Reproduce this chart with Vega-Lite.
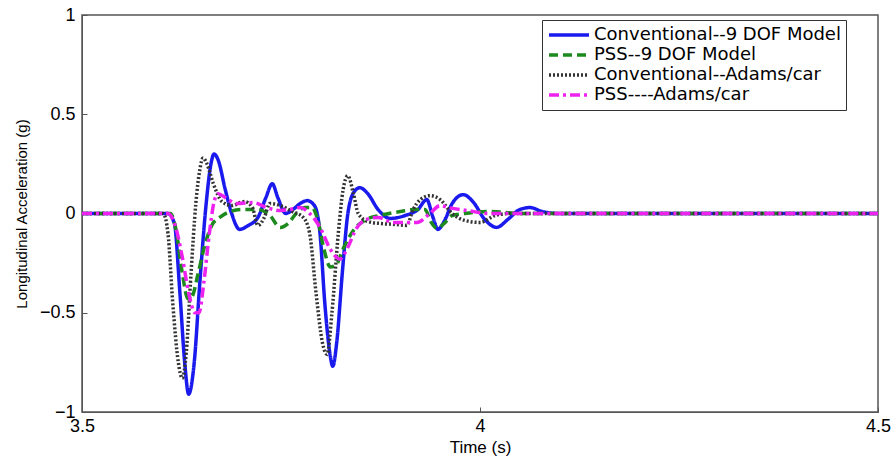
{
  "$schema": "https://vega.github.io/schema/vega-lite/v6.json",
  "width": 796,
  "height": 397,
  "autosize": {"type": "none"},
  "padding": {"left": 82, "top": 15, "right": 16, "bottom": 47},
  "background": "white",
  "config": {
    "font": "Liberation Sans",
    "view": {"stroke": "#555", "strokeWidth": 1.5},
    "axis": {
      "grid": false,
      "domainColor": "#555",
      "tickColor": "#555",
      "labelColor": "black",
      "titleColor": "black",
      "labelFont": "Liberation Sans",
      "titleFont": "Liberation Sans",
      "titleFontWeight": "normal",
      "labelFontSize": 18,
      "titleFontSize": 17,
      "labelOverlap": false
    }
  },
  "data": {
    "values": [
      {"t": 3.5, "y": 0, "s": "Conventional--9 DOF Model"},
      {"t": 3.608, "y": 0, "s": "Conventional--9 DOF Model"},
      {"t": 3.616, "y": -0.05, "s": "Conventional--9 DOF Model"},
      {"t": 3.623, "y": -0.4, "s": "Conventional--9 DOF Model"},
      {"t": 3.629, "y": -0.75, "s": "Conventional--9 DOF Model"},
      {"t": 3.634, "y": -0.91, "s": "Conventional--9 DOF Model"},
      {"t": 3.641, "y": -0.75, "s": "Conventional--9 DOF Model"},
      {"t": 3.648, "y": -0.35, "s": "Conventional--9 DOF Model"},
      {"t": 3.656, "y": 0.05, "s": "Conventional--9 DOF Model"},
      {"t": 3.662, "y": 0.25, "s": "Conventional--9 DOF Model"},
      {"t": 3.666, "y": 0.3, "s": "Conventional--9 DOF Model"},
      {"t": 3.671, "y": 0.27, "s": "Conventional--9 DOF Model"},
      {"t": 3.68, "y": 0.12, "s": "Conventional--9 DOF Model"},
      {"t": 3.688, "y": 0.0, "s": "Conventional--9 DOF Model"},
      {"t": 3.698, "y": -0.08, "s": "Conventional--9 DOF Model"},
      {"t": 3.709, "y": -0.06, "s": "Conventional--9 DOF Model"},
      {"t": 3.721, "y": -0.02, "s": "Conventional--9 DOF Model"},
      {"t": 3.731, "y": 0.08, "s": "Conventional--9 DOF Model"},
      {"t": 3.739, "y": 0.15, "s": "Conventional--9 DOF Model"},
      {"t": 3.746, "y": 0.08, "s": "Conventional--9 DOF Model"},
      {"t": 3.756, "y": 0.0, "s": "Conventional--9 DOF Model"},
      {"t": 3.765, "y": 0.02, "s": "Conventional--9 DOF Model"},
      {"t": 3.774, "y": 0.05, "s": "Conventional--9 DOF Model"},
      {"t": 3.783, "y": 0.065, "s": "Conventional--9 DOF Model"},
      {"t": 3.792, "y": 0.04, "s": "Conventional--9 DOF Model"},
      {"t": 3.799, "y": -0.1, "s": "Conventional--9 DOF Model"},
      {"t": 3.805, "y": -0.45, "s": "Conventional--9 DOF Model"},
      {"t": 3.812, "y": -0.72, "s": "Conventional--9 DOF Model"},
      {"t": 3.815, "y": -0.77, "s": "Conventional--9 DOF Model"},
      {"t": 3.82, "y": -0.65, "s": "Conventional--9 DOF Model"},
      {"t": 3.827, "y": -0.3, "s": "Conventional--9 DOF Model"},
      {"t": 3.834, "y": 0.0, "s": "Conventional--9 DOF Model"},
      {"t": 3.842, "y": 0.11, "s": "Conventional--9 DOF Model"},
      {"t": 3.849, "y": 0.13, "s": "Conventional--9 DOF Model"},
      {"t": 3.859, "y": 0.1, "s": "Conventional--9 DOF Model"},
      {"t": 3.872, "y": 0.02, "s": "Conventional--9 DOF Model"},
      {"t": 3.887, "y": -0.025, "s": "Conventional--9 DOF Model"},
      {"t": 3.906, "y": -0.01, "s": "Conventional--9 DOF Model"},
      {"t": 3.922, "y": 0.02, "s": "Conventional--9 DOF Model"},
      {"t": 3.933, "y": 0.07, "s": "Conventional--9 DOF Model"},
      {"t": 3.941, "y": -0.02, "s": "Conventional--9 DOF Model"},
      {"t": 3.947, "y": -0.08, "s": "Conventional--9 DOF Model"},
      {"t": 3.955, "y": -0.04, "s": "Conventional--9 DOF Model"},
      {"t": 3.965, "y": 0.05, "s": "Conventional--9 DOF Model"},
      {"t": 3.979, "y": 0.095, "s": "Conventional--9 DOF Model"},
      {"t": 3.991, "y": 0.06, "s": "Conventional--9 DOF Model"},
      {"t": 4.006, "y": -0.03, "s": "Conventional--9 DOF Model"},
      {"t": 4.021, "y": -0.07, "s": "Conventional--9 DOF Model"},
      {"t": 4.035, "y": -0.03, "s": "Conventional--9 DOF Model"},
      {"t": 4.05, "y": 0.02, "s": "Conventional--9 DOF Model"},
      {"t": 4.063, "y": 0.03, "s": "Conventional--9 DOF Model"},
      {"t": 4.078, "y": 0.01, "s": "Conventional--9 DOF Model"},
      {"t": 4.1, "y": 0, "s": "Conventional--9 DOF Model"},
      {"t": 4.5, "y": 0, "s": "Conventional--9 DOF Model"},

      {"t": 3.5, "y": 0, "s": "PSS--9 DOF Model"},
      {"t": 3.611, "y": 0, "s": "PSS--9 DOF Model"},
      {"t": 3.618, "y": -0.08, "s": "PSS--9 DOF Model"},
      {"t": 3.626, "y": -0.3, "s": "PSS--9 DOF Model"},
      {"t": 3.633, "y": -0.43, "s": "PSS--9 DOF Model"},
      {"t": 3.638, "y": -0.42, "s": "PSS--9 DOF Model"},
      {"t": 3.646, "y": -0.3, "s": "PSS--9 DOF Model"},
      {"t": 3.655, "y": -0.15, "s": "PSS--9 DOF Model"},
      {"t": 3.663, "y": -0.06, "s": "PSS--9 DOF Model"},
      {"t": 3.673, "y": -0.02, "s": "PSS--9 DOF Model"},
      {"t": 3.686, "y": 0.01, "s": "PSS--9 DOF Model"},
      {"t": 3.701, "y": 0.02, "s": "PSS--9 DOF Model"},
      {"t": 3.721, "y": 0.02, "s": "PSS--9 DOF Model"},
      {"t": 3.736, "y": -0.01, "s": "PSS--9 DOF Model"},
      {"t": 3.749, "y": -0.07, "s": "PSS--9 DOF Model"},
      {"t": 3.759, "y": -0.05, "s": "PSS--9 DOF Model"},
      {"t": 3.769, "y": 0.0, "s": "PSS--9 DOF Model"},
      {"t": 3.78, "y": 0.03, "s": "PSS--9 DOF Model"},
      {"t": 3.789, "y": 0.03, "s": "PSS--9 DOF Model"},
      {"t": 3.796, "y": -0.03, "s": "PSS--9 DOF Model"},
      {"t": 3.804, "y": -0.18, "s": "PSS--9 DOF Model"},
      {"t": 3.812, "y": -0.27, "s": "PSS--9 DOF Model"},
      {"t": 3.819, "y": -0.26, "s": "PSS--9 DOF Model"},
      {"t": 3.829, "y": -0.17, "s": "PSS--9 DOF Model"},
      {"t": 3.842, "y": -0.08, "s": "PSS--9 DOF Model"},
      {"t": 3.857, "y": -0.03, "s": "PSS--9 DOF Model"},
      {"t": 3.874, "y": -0.01, "s": "PSS--9 DOF Model"},
      {"t": 3.9, "y": 0.01, "s": "PSS--9 DOF Model"},
      {"t": 3.918, "y": 0.02, "s": "PSS--9 DOF Model"},
      {"t": 3.931, "y": 0.02, "s": "PSS--9 DOF Model"},
      {"t": 3.938, "y": -0.04, "s": "PSS--9 DOF Model"},
      {"t": 3.946, "y": -0.075, "s": "PSS--9 DOF Model"},
      {"t": 3.955, "y": -0.05, "s": "PSS--9 DOF Model"},
      {"t": 3.965, "y": -0.01, "s": "PSS--9 DOF Model"},
      {"t": 3.981, "y": 0.0, "s": "PSS--9 DOF Model"},
      {"t": 4.013, "y": 0.01, "s": "PSS--9 DOF Model"},
      {"t": 4.05, "y": 0, "s": "PSS--9 DOF Model"},
      {"t": 4.5, "y": 0, "s": "PSS--9 DOF Model"},

      {"t": 3.5, "y": 0, "s": "Conventional--Adams/car"},
      {"t": 3.602, "y": 0, "s": "Conventional--Adams/car"},
      {"t": 3.608, "y": -0.1, "s": "Conventional--Adams/car"},
      {"t": 3.614, "y": -0.45, "s": "Conventional--Adams/car"},
      {"t": 3.621, "y": -0.75, "s": "Conventional--Adams/car"},
      {"t": 3.626, "y": -0.83, "s": "Conventional--Adams/car"},
      {"t": 3.631, "y": -0.7, "s": "Conventional--Adams/car"},
      {"t": 3.637, "y": -0.3, "s": "Conventional--Adams/car"},
      {"t": 3.643, "y": 0.05, "s": "Conventional--Adams/car"},
      {"t": 3.648, "y": 0.22, "s": "Conventional--Adams/car"},
      {"t": 3.652, "y": 0.28, "s": "Conventional--Adams/car"},
      {"t": 3.657, "y": 0.25, "s": "Conventional--Adams/car"},
      {"t": 3.665, "y": 0.15, "s": "Conventional--Adams/car"},
      {"t": 3.676, "y": 0.06, "s": "Conventional--Adams/car"},
      {"t": 3.688, "y": 0.04, "s": "Conventional--Adams/car"},
      {"t": 3.704, "y": 0.06, "s": "Conventional--Adams/car"},
      {"t": 3.714, "y": 0.03, "s": "Conventional--Adams/car"},
      {"t": 3.721, "y": -0.06, "s": "Conventional--Adams/car"},
      {"t": 3.729, "y": -0.02, "s": "Conventional--Adams/car"},
      {"t": 3.736, "y": 0.05, "s": "Conventional--Adams/car"},
      {"t": 3.749, "y": 0.04, "s": "Conventional--Adams/car"},
      {"t": 3.764, "y": 0.01, "s": "Conventional--Adams/car"},
      {"t": 3.778, "y": -0.02, "s": "Conventional--Adams/car"},
      {"t": 3.786, "y": -0.1, "s": "Conventional--Adams/car"},
      {"t": 3.794, "y": -0.4, "s": "Conventional--Adams/car"},
      {"t": 3.802, "y": -0.65, "s": "Conventional--Adams/car"},
      {"t": 3.808, "y": -0.71, "s": "Conventional--Adams/car"},
      {"t": 3.814, "y": -0.5, "s": "Conventional--Adams/car"},
      {"t": 3.822, "y": -0.1, "s": "Conventional--Adams/car"},
      {"t": 3.828, "y": 0.12, "s": "Conventional--Adams/car"},
      {"t": 3.834, "y": 0.19, "s": "Conventional--Adams/car"},
      {"t": 3.841, "y": 0.1, "s": "Conventional--Adams/car"},
      {"t": 3.847, "y": 0.0, "s": "Conventional--Adams/car"},
      {"t": 3.859, "y": -0.04, "s": "Conventional--Adams/car"},
      {"t": 3.874, "y": -0.05, "s": "Conventional--Adams/car"},
      {"t": 3.893, "y": -0.055, "s": "Conventional--Adams/car"},
      {"t": 3.908, "y": -0.06, "s": "Conventional--Adams/car"},
      {"t": 3.916, "y": 0.02, "s": "Conventional--Adams/car"},
      {"t": 3.925, "y": 0.07, "s": "Conventional--Adams/car"},
      {"t": 3.937, "y": 0.09, "s": "Conventional--Adams/car"},
      {"t": 3.95, "y": 0.07, "s": "Conventional--Adams/car"},
      {"t": 3.965, "y": 0.0, "s": "Conventional--Adams/car"},
      {"t": 3.981, "y": -0.035, "s": "Conventional--Adams/car"},
      {"t": 4.0, "y": -0.045, "s": "Conventional--Adams/car"},
      {"t": 4.019, "y": -0.01, "s": "Conventional--Adams/car"},
      {"t": 4.038, "y": 0, "s": "Conventional--Adams/car"},
      {"t": 4.5, "y": 0, "s": "Conventional--Adams/car"},

      {"t": 3.5, "y": 0, "s": "PSS----Adams/car"},
      {"t": 3.608, "y": 0, "s": "PSS----Adams/car"},
      {"t": 3.617, "y": -0.06, "s": "PSS----Adams/car"},
      {"t": 3.626, "y": -0.22, "s": "PSS----Adams/car"},
      {"t": 3.634, "y": -0.4, "s": "PSS----Adams/car"},
      {"t": 3.642, "y": -0.5, "s": "PSS----Adams/car"},
      {"t": 3.647, "y": -0.5, "s": "PSS----Adams/car"},
      {"t": 3.653, "y": -0.35, "s": "PSS----Adams/car"},
      {"t": 3.66, "y": -0.1, "s": "PSS----Adams/car"},
      {"t": 3.666, "y": 0.06, "s": "PSS----Adams/car"},
      {"t": 3.671, "y": 0.1, "s": "PSS----Adams/car"},
      {"t": 3.68, "y": 0.08, "s": "PSS----Adams/car"},
      {"t": 3.695, "y": 0.05, "s": "PSS----Adams/car"},
      {"t": 3.715, "y": 0.055, "s": "PSS----Adams/car"},
      {"t": 3.732, "y": 0.03, "s": "PSS----Adams/car"},
      {"t": 3.749, "y": 0.015, "s": "PSS----Adams/car"},
      {"t": 3.761, "y": 0.02, "s": "PSS----Adams/car"},
      {"t": 3.774, "y": 0.03, "s": "PSS----Adams/car"},
      {"t": 3.786, "y": 0.0, "s": "PSS----Adams/car"},
      {"t": 3.799, "y": -0.07, "s": "PSS----Adams/car"},
      {"t": 3.812, "y": -0.18, "s": "PSS----Adams/car"},
      {"t": 3.824, "y": -0.23, "s": "PSS----Adams/car"},
      {"t": 3.834, "y": -0.17, "s": "PSS----Adams/car"},
      {"t": 3.844, "y": -0.08, "s": "PSS----Adams/car"},
      {"t": 3.857, "y": -0.03, "s": "PSS----Adams/car"},
      {"t": 3.872, "y": -0.02, "s": "PSS----Adams/car"},
      {"t": 3.891, "y": -0.045, "s": "PSS----Adams/car"},
      {"t": 3.921, "y": -0.045, "s": "PSS----Adams/car"},
      {"t": 3.937, "y": 0.0, "s": "PSS----Adams/car"},
      {"t": 3.95, "y": 0.04, "s": "PSS----Adams/car"},
      {"t": 3.96, "y": 0.03, "s": "PSS----Adams/car"},
      {"t": 3.984, "y": 0.015, "s": "PSS----Adams/car"},
      {"t": 4.013, "y": 0, "s": "PSS----Adams/car"},
      {"t": 4.5, "y": 0, "s": "PSS----Adams/car"}
    ]
  },
  "mark": {"type": "line", "interpolate": "monotone", "clip": true},
  "encoding": {
    "x": {
      "field": "t", "type": "quantitative",
      "scale": {"domain": [3.5, 4.5], "nice": false, "zero": false},
      "axis": {"values": [3.5, 4, 4.5], "format": "~g", "title": "Time (s)", "tickSize": -5, "labelPadding": 10, "titlePadding": 4, "labelFlush": false}
    },
    "y": {
      "field": "y", "type": "quantitative",
      "scale": {"domain": [-1, 1], "nice": false},
      "axis": {"values": [-1, -0.5, 0, 0.5, 1], "format": "~g", "title": "Longitudinal Acceleration (g)", "titleFontSize": 15, "tickSize": -5, "labelPadding": 12, "titlePadding": 10, "labelFlush": false}
    },
    "color": {
      "field": "s", "type": "nominal",
      "scale": {
        "domain": ["Conventional--9 DOF Model", "PSS--9 DOF Model", "Conventional--Adams/car", "PSS----Adams/car"],
        "range": ["#1a1aee", "#1d8a1d", "#333333", "#ee22ee"]
      },
      "legend": {
        "title": null,
        "orient": "none",
        "legendX": 460,
        "legendY": 5,
        "symbolType": "stroke",
        "symbolSize": 1600,
        "symbolStrokeWidth": 3,
        "clipHeight": 20,
        "labelFontSize": 18,
        "labelFont": "DejaVu Sans",
        "labelColor": "black",
        "labelLimit": 0,
        "rowPadding": 0,
        "strokeColor": "#333",
        "fillColor": "white",
        "padding": 5,
        "labelOffset": 3
      }
    },
    "strokeDash": {
      "field": "s", "type": "nominal",
      "scale": {
        "domain": ["Conventional--9 DOF Model", "PSS--9 DOF Model", "Conventional--Adams/car", "PSS----Adams/car"],
        "range": [[1, 0], [9, 5], [2, 2], [10, 4, 3, 4]]
      },
      "legend": null
    },
    "strokeWidth": {
      "field": "s", "type": "nominal",
      "scale": {
        "domain": ["Conventional--9 DOF Model", "PSS--9 DOF Model", "Conventional--Adams/car", "PSS----Adams/car"],
        "range": [3.5, 3.5, 2.5, 3.5]
      },
      "legend": null
    }
  }
}
